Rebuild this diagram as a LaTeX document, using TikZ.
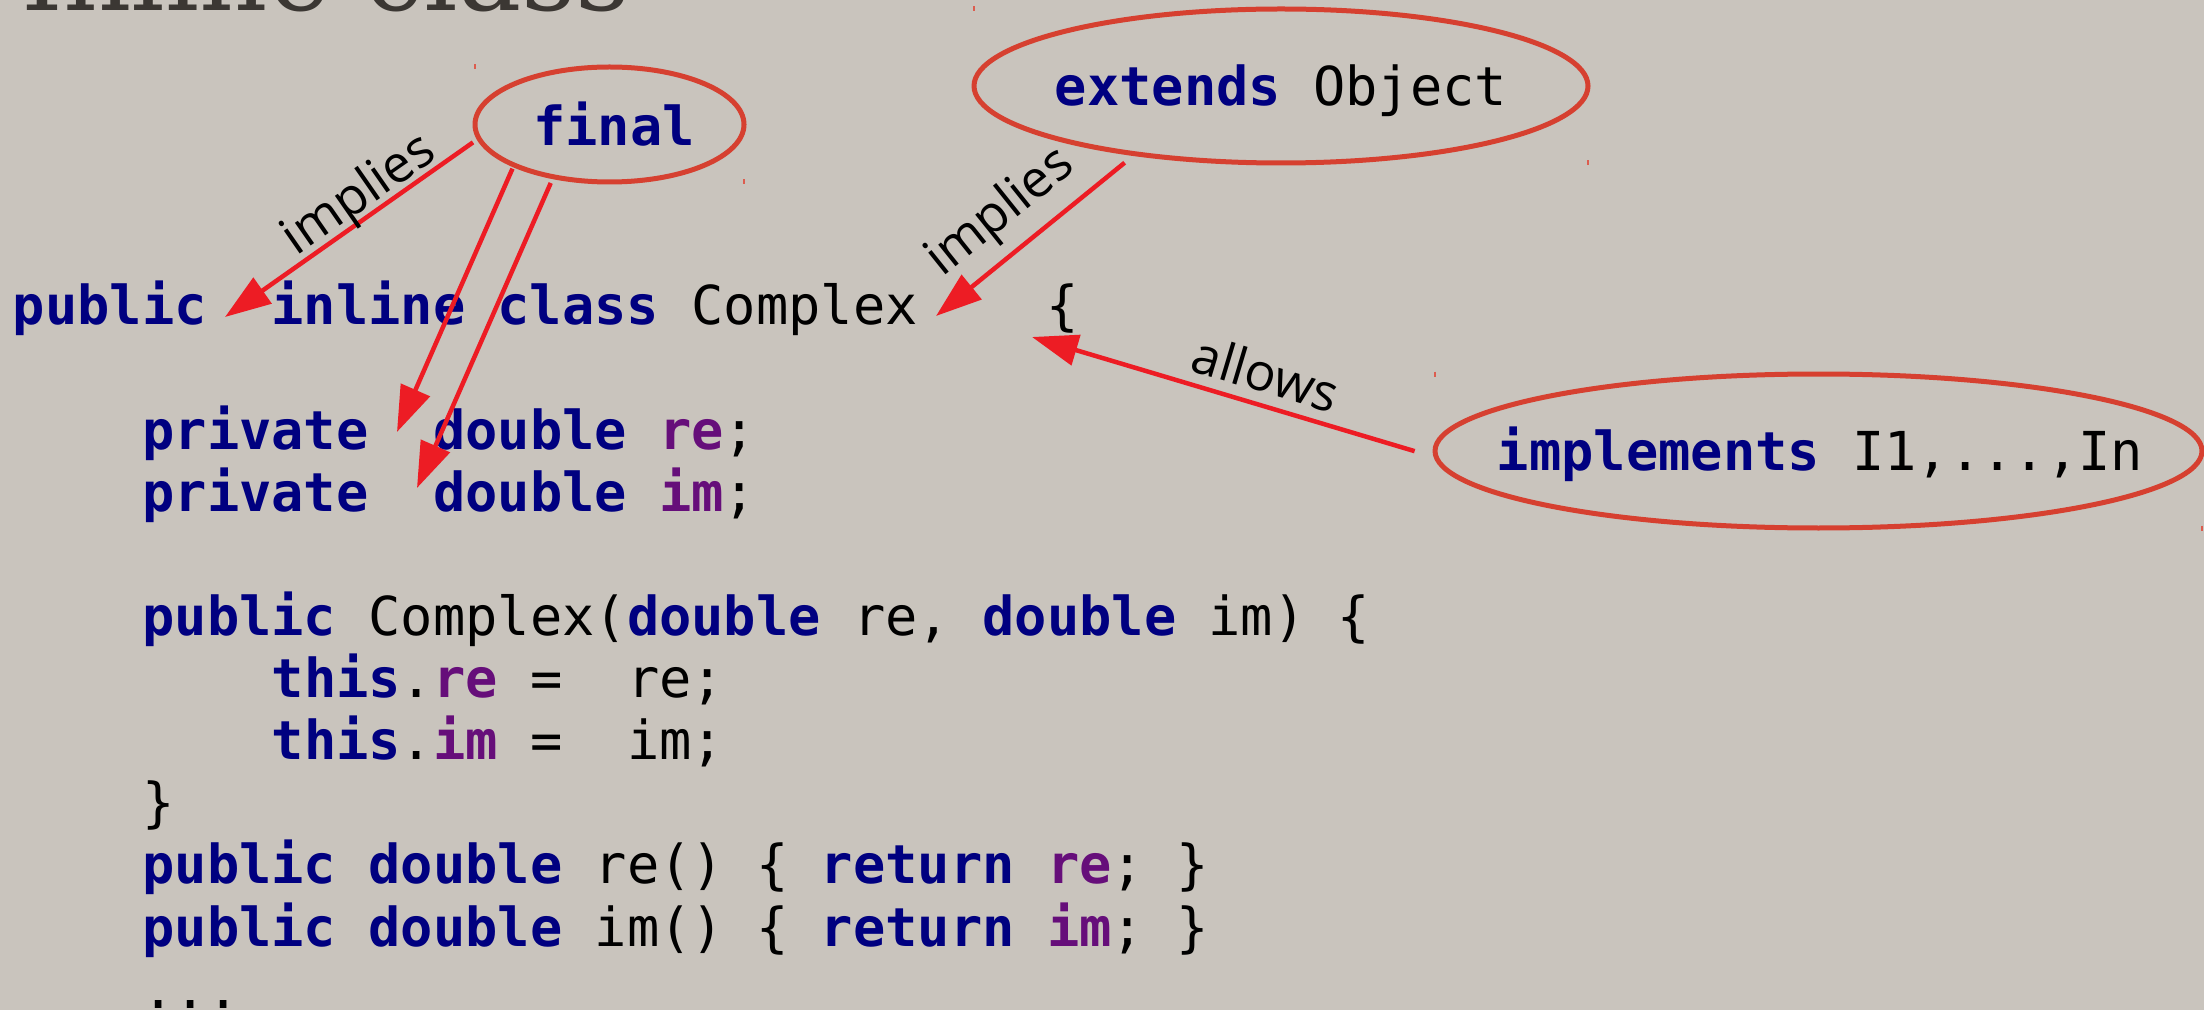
\documentclass[tikz,border=0pt]{standalone}
\usepackage{fontspec}
\setmainfont{Open Sans}
\newfontfamily\codefont{DejaVu Sans Mono}
\newfontfamily\titlefont{DejaVu Serif}
\usetikzlibrary{arrows.meta,shapes.geometric}

\definecolor{slidebg}{RGB}{201,196,189}
\definecolor{kwblue}{RGB}{0,0,128}
\definecolor{fieldpurple}{RGB}{102,14,122}
\definecolor{ringred}{RGB}{214,64,48}
\definecolor{arrowred}{RGB}{237,28,36}
\definecolor{titlegray}{RGB}{59,55,51}

% Java keywords and fields, IDE style
\newcommand\kw[1]{\textbf{\color{kwblue}#1}}
\newcommand\fld[1]{\textbf{\color{fieldpurple}#1}}

\tikzset{
  codeline/.style={anchor=base west, inner sep=0pt, outer sep=0pt,
    font=\codefont\fontsize{15.27pt}{18pt}\selectfont},
  ringtext/.style={anchor=base, inner sep=0pt,
    font=\codefont\fontsize{15.27pt}{18pt}\selectfont},
  ring/.style={ellipse, draw=ringred, line width=0.5mm, inner sep=0pt, outer sep=0pt},
  corner/.style={draw=ringred!85, line width=0.15mm},
  arr/.style={draw=arrowred, line width=0.45mm, -{Triangle[length=4.6mm,width=3.1mm]}},
  lbl/.style={inner sep=0pt, font=\fontsize{14.7pt}{17pt}\selectfont},
}

\begin{document}
\begin{tikzpicture}[x=0.1mm, y=-0.1mm]
  \fill[slidebg] (0,0) rectangle (2204,1010);
  \useasboundingbox (0,0) rectangle (2204,1010);
  \clip (0,0) rectangle (2204,1010);

  % slide title, mostly above the visible area
  \node[anchor=base west, inner sep=0pt, text=titlegray,
        font=\titlefont\fontsize{30.2pt}{36pt}\selectfont] (title) at (21,11) {Inline class};

  % source code
  \node[codeline] (c0)  at (13,325)    {\kw{public}~~\kw{inline}~\kw{class}~Complex~~~~\{};
  \node[codeline] (c2)  at (142.4,449.2) {\kw{private}~~\kw{double}~\fld{re};};
  \node[codeline] (c3)  at (142.4,511.3) {\kw{private}~~\kw{double}~\fld{im};};
  \node[codeline] (c5)  at (142.4,635.5) {\kw{public}~Complex(\kw{double}~re,~\kw{double}~im)~\{};
  \node[codeline] (c6)  at (271.7,697.6) {\kw{this}.\fld{re}~=~~re;};
  \node[codeline] (c7)  at (271.7,759.7) {\kw{this}.\fld{im}~=~~im;};
  \node[codeline] (c8)  at (142.4,821.8) {\}};
  \node[codeline] (c9)  at (142.4,883.9) {\kw{public}~\kw{double}~re()~\{~\kw{return}~\fld{re};~\}};
  \node[codeline] (c10) at (142.4,946)   {\kw{public}~\kw{double}~im()~\{~\kw{return}~\fld{im};~\}};
  \node[codeline] (c11) at (142.4,1008)  {...};

  % annotation rings
  \node[ring, minimum width=26.9mm, minimum height=11.5mm] (fin)  at (609.5,124.5) {};
  \node[ring, minimum width=61.4mm, minimum height=15.4mm] (ext)  at (1281,86) {};
  \node[ring, minimum width=76.7mm, minimum height=15.4mm] (impl) at (1818.5,451) {};

  \node[ringtext] (finT)  at (614,146)  {\kw{final}};
  \node[ringtext] (extT)  at (1281,106) {\kw{extends}~Object};
  \node[ringtext] (implT) at (1820,470) {\kw{implements}~I1,...,In};

  % selection marks at the ring corners
  \foreach \r in {fin,ext,impl}{
    \draw[corner] (\r.west |- \r.north) ++(0,-2.5) -- ++(0,5);
    \draw[corner] (\r.east |- \r.south) ++(0,-2.5) -- ++(0,5);
  }

  % arrow targets in the code
  \coordinate (t1) at (225,317);
  \coordinate (t2) at (397,432);
  \coordinate (t3) at (417,488);
  \coordinate (t4) at (936,316);
  \coordinate (t5) at (1032,337);

  \draw[arr, shorten <=0.72mm] (fin.186.8) -- (t1);
  \draw[arr, shorten <=0.40mm] (fin.203.3) -- (t2);
  \draw[arr, shorten <=0.68mm] (fin.223.1) -- (t3);
  \draw[arr, shorten <=1.41mm] (ext.205.5) -- (t4);
  \draw[arr, shorten <=2.28mm] (impl.181.1) -- (t5);

  \node[lbl, rotate=34.8]  (lab1) at (360,196)  {implies};
  \node[lbl, rotate=38.7]  (lab2) at (1001,213) {implies};
  \node[lbl, rotate=-16.7] (lab3) at (1266,373) {allows};
\end{tikzpicture}
\end{document}
